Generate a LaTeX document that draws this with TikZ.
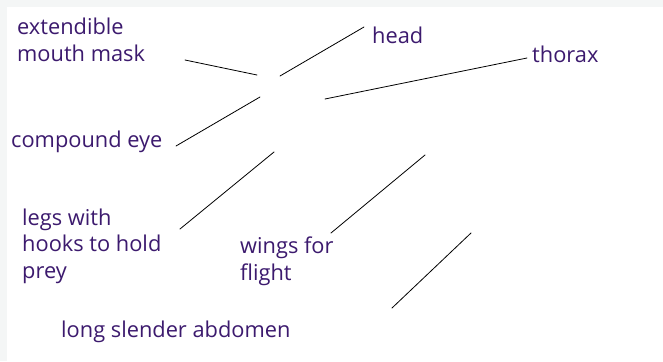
\documentclass[tikz,border=0pt]{standalone}
\usepackage{fontspec}
\setmainfont{Open Sans}
\definecolor{labelpurple}{RGB}{60,26,110}
\definecolor{edgegray}{RGB}{244,246,246}
\tikzset{
	lbl/.style={anchor=base west,inner sep=0pt,align=left,text=labelpurple,
		font=\fontsize{21.8}{26.5}\selectfont},
	pointer/.style={line width=.8pt,black}
}
\begin{document}
\begin{tikzpicture}[x=1pt,y=-1pt,line join=round,line cap=round]
	\useasboundingbox (0,0) rectangle (663,361);
	\fill[edgegray] (0,0) rectangle (663,361);
	\fill[white] (7,7) rectangle (663,361);
	% labels (anchored on the last line)
	\node[lbl] (mask) at (17,61) {extendible\\mouth mask};
	\node[lbl] (head) at (372,44) {head};
	\node[lbl] (thorax) at (532,63) {thorax};
	\node[lbl] (eye) at (11,147) {compound eye};
	\node[lbl] (legs) at (22,278) {legs with\\hooks to hold\\prey};
	\node[lbl] (wings) at (240,280) {wings for\\flight};
	\node[lbl] (abdomen) at (61,337) {long slender abdomen};
	% pointer ends
	\coordinate (maskA) at (185,60);   \coordinate (maskB) at (257,75);
	\coordinate (headA) at (364,27);   \coordinate (headB) at (280,76);
	\coordinate (thoraxA) at (527,58); \coordinate (thoraxB) at (325,99);
	\coordinate (eyeA) at (176,146);   \coordinate (eyeB) at (260,97);
	\coordinate (legsA) at (180,229);  \coordinate (legsB) at (274,152);
	\coordinate (wingsA) at (331,233); \coordinate (wingsB) at (425,155);
	\coordinate (abdA) at (392,308);   \coordinate (abdB) at (471,233);
	\foreach \a/\b in {maskA/maskB,headA/headB,thoraxA/thoraxB,eyeA/eyeB,legsA/legsB,wingsA/wingsB,abdA/abdB}{
		\draw[pointer] (\a)--(\b);
	}
\end{tikzpicture}
\end{document}
